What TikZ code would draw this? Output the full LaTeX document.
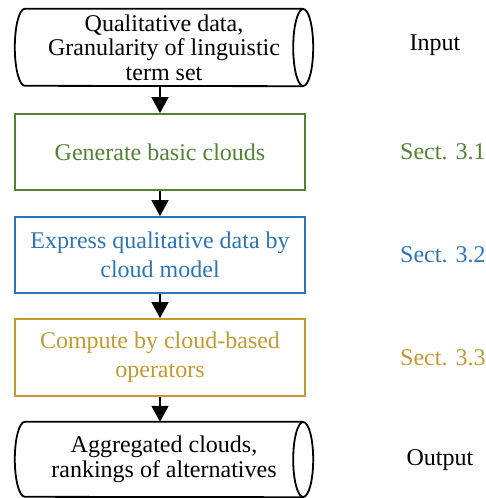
\documentclass[tikz,border=0pt]{standalone}
\usepackage{fontspec}
\setmainfont{Liberation Serif}
\usetikzlibrary{arrows.meta}
\definecolor{cgreen}{HTML}{548235}
\definecolor{cblue}{HTML}{2E75B6}
\definecolor{cgold}{HTML}{C39A30}
\tikzset{
  box/.style={draw, line width=1.8pt, minimum width=290pt, minimum height=76pt, inner sep=0pt, align=center, font=\fontsize{24}{29}\selectfont},
  drumtext/.style={draw=none, minimum width=278pt, minimum height=77pt, inner sep=0pt, align=center, font=\fontsize{24}{24.5}\selectfont},
  drumline/.style={line width=1.8pt, black},
  arr/.style={line width=1.8pt, -{Triangle[length=16pt,width=17pt]}},
  side/.style={font=\fontsize{24}{29}\selectfont, inner sep=0pt}
}
\begin{document}
\begin{tikzpicture}[x=1pt,y=-1pt]
\useasboundingbox (0,0) rectangle (485,498);
% top drum
\node[drumtext] (in) at (164,47.5) {Qualitative data,\\Granularity of linguistic\\term set};
\draw[drumline] (in.north east) -- (in.north west) arc[start angle=90,end angle=270,x radius=10pt,y radius=38.5pt] -- (in.south east);
\draw[drumline] (in.east) ellipse [x radius=10pt,y radius=38.5pt];
% boxes
\node[box, draw=cgreen, text=cgreen] (gen) at (160,152) {Generate basic clouds};
\node[box, draw=cblue, text=cblue] (exp) at (160,255) {Express qualitative data by\\cloud model};
\node[box, draw=cgold, text=cgold, minimum height=77pt] (comp) at (160,357.5) {Compute by cloud-based\\operators};
% bottom drum
\node[drumtext, minimum height=75pt] (out) at (164,459.5) {Aggregated clouds,\\rankings of alternatives};
\draw[drumline] (out.north east) -- (out.north west) arc[start angle=90,end angle=270,x radius=10pt,y radius=37.5pt] -- (out.south east);
\draw[drumline] (out.east) ellipse [x radius=10pt,y radius=37.5pt];
% arrows
\draw[arr] (gen.north |- in.south) -- (gen.north);
\draw[arr] (gen.south) -- (exp.north);
\draw[arr] (exp.south) -- (comp.north);
\draw[arr] (comp.south) -- (comp.south |- out.north);
% side labels
\node[side] (lin) at (435,45) {Input};
\node[side, anchor=west, text=cgreen] (s1) at (400,152) {Sect. 3.1};
\node[side, anchor=west, text=cblue] (s2) at (400,255) {Sect. 3.2};
\node[side, anchor=west, text=cgold] (s3) at (400,357.5) {Sect. 3.3};
\node[side] (lout) at (440,460) {Output};
\end{tikzpicture}
\end{document}
